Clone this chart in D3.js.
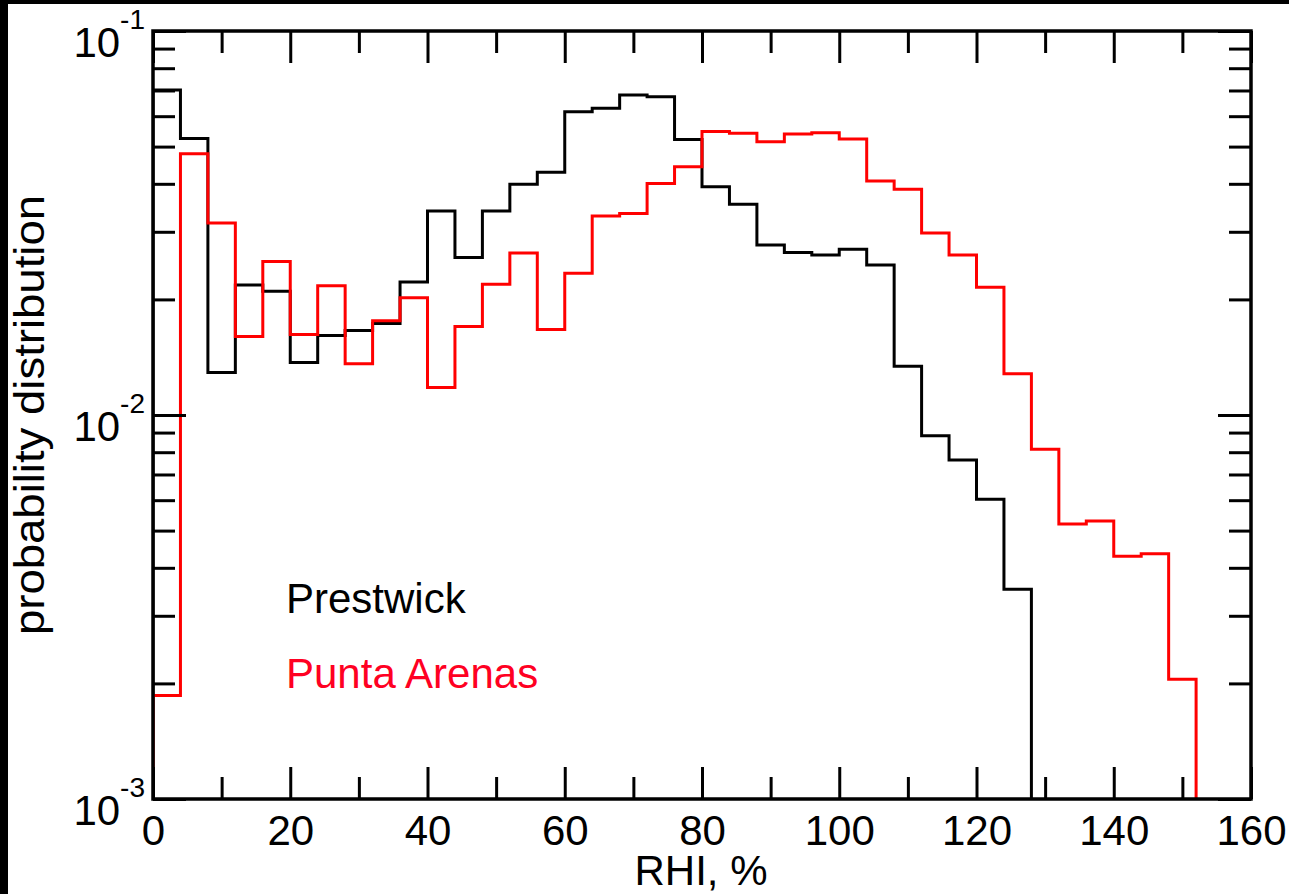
<!DOCTYPE html>
<html>
<head>
<meta charset="utf-8">
<script src="https://cdn.jsdelivr.net/npm/d3@7"></script>
<style>
  html, body { margin: 0; padding: 0; background: #fff; }
  svg { display: block; }
  text { font-family: "Liberation Sans", Arial, Helvetica, sans-serif; }
</style>
</head>
<body>
<svg id="chart" width="1289" height="894"></svg>
<script>
// ---- data ----
const xTicksMajor = [0, 20, 40, 60, 80, 100, 120, 140, 160];
const xTicksMinor = [10, 30, 50, 70, 90, 110, 130, 150];
const yTicksMajor = [1e-3, 1e-2, 1e-1];
const yTickExponents = ["-3", "-2", "-1"];
const yTicksMinor = [2e-3,3e-3,4e-3,5e-3,6e-3,7e-3,8e-3,9e-3,2e-2,3e-2,4e-2,5e-2,6e-2,7e-2,8e-2,9e-2];

// left edges of RHI bins (width 4 %)
const binEdges = [0,4,8,12,16,20,24,28,32,36,40,44,48,52,56,60,64,68,72,76,
                  80,84,88,92,96,100,104,108,112,116,120,124,128,132,136,140,144,148,152];

const prestwick = [0.0702, 0.0525, 0.0129, 0.0218, 0.0210, 0.0137, 0.0161, 0.0166, 0.0173, 0.0222,
                   0.0340, 0.0257, 0.0340, 0.0399, 0.0429, 0.0616, 0.0629, 0.0681, 0.0674, 0.0522,
                   0.0393, 0.0354, 0.0277, 0.0265, 0.0261, 0.0270, 0.0246, 0.0134, 0.00883, 0.00763,
                   0.00603, 0.00352];

const puntaArenas = [0.00186, 0.0479, 0.0316, 0.0160, 0.0251, 0.0162, 0.0217, 0.0136, 0.0176, 0.0202,
                     0.0118, 0.0170, 0.0219, 0.0264, 0.0167, 0.0234, 0.0330, 0.0335, 0.0401, 0.0443,
                     0.0547, 0.0542, 0.0515, 0.0539, 0.0543, 0.0523, 0.0407, 0.0387, 0.0298, 0.0261,
                     0.0215, 0.0128, 0.00814, 0.00520, 0.00530, 0.00429, 0.00435, 0.00205];

const seriesNames = ["Prestwick", "Punta Arenas"];
const seriesColors = ["#000000", "#ff0000"];
const labelColors = ["#000000", "#ff0022"];

// ---- layout ----
const W = 1289, H = 894;
const L = 153, T = 31, R = 1251, B = 799;
const FONT = 42;

const svg = d3.select("#chart");

// frame bands at top/left of picture
svg.append("rect").attr("x", 0).attr("y", 0).attr("width", W).attr("height", 4).attr("fill", "#000");
svg.append("rect").attr("x", 0).attr("y", 0).attr("width", 8).attr("height", H).attr("fill", "#000");

const x = d3.scaleLinear().domain([0, 160]).range([L, R]);
const y = d3.scaleLog().domain([1e-3, 1e-1]).range([B, T]);

svg.append("defs").append("clipPath").attr("id", "plotclip")
  .append("rect").attr("x", L).attr("y", T).attr("width", R - L).attr("height", B - T);

// ---- step lines ----
function stepPoints(vals) {
  const pts = [[binEdges[0], 1e-3]];
  vals.forEach((v, i) => {
    pts.push([binEdges[i], v]);
    pts.push([binEdges[i] + 4, v]);
  });
  pts.push([binEdges[vals.length - 1] + 4, 1e-3]);
  return pts;
}
const line = d3.line().x(d => x(d[0])).y(d => y(d[1]));

const gLines = svg.append("g").attr("clip-path", "url(#plotclip)");
[prestwick, puntaArenas].forEach((vals, i) => {
  gLines.append("path")
    .attr("d", line(stepPoints(vals)))
    .attr("fill", "none")
    .attr("stroke", seriesColors[i])
    .attr("stroke-width", 3)
    .attr("stroke-linejoin", "miter");
});

// ---- axes ----
function styleAxis(g) {
  g.select(".domain").remove();
  g.selectAll(".tick line").attr("stroke", "#000").attr("stroke-width", 3);
}
// bottom
svg.append("g").attr("transform", `translate(0,${B})`)
  .call(d3.axisBottom(x).tickValues(xTicksMajor).tickSize(-32).tickPadding(16).tickFormat(d3.format("d")))
  .call(styleAxis)
  .call(g => g.selectAll("text").attr("font-size", FONT).attr("fill", "#000")
    .attr("font-family", "Liberation Sans, Arial, sans-serif"));
svg.append("g").attr("transform", `translate(0,${B})`)
  .call(d3.axisBottom(x).tickValues(xTicksMinor).tickSize(-22).tickFormat(""))
  .call(styleAxis);
// top
svg.append("g").attr("transform", `translate(0,${T})`)
  .call(d3.axisTop(x).tickValues(xTicksMajor).tickSize(-32).tickFormat(""))
  .call(styleAxis);
svg.append("g").attr("transform", `translate(0,${T})`)
  .call(d3.axisTop(x).tickValues(xTicksMinor).tickSize(-22).tickFormat(""))
  .call(styleAxis);
// left
svg.append("g").attr("transform", `translate(${L},0)`)
  .call(d3.axisLeft(y).tickValues(yTicksMajor).tickSize(-33).tickFormat(""))
  .call(styleAxis);
svg.append("g").attr("transform", `translate(${L},0)`)
  .call(d3.axisLeft(y).tickValues(yTicksMinor).tickSize(-22).tickFormat(""))
  .call(styleAxis);
// right
svg.append("g").attr("transform", `translate(${R},0)`)
  .call(d3.axisRight(y).tickValues(yTicksMajor).tickSize(-33).tickFormat(""))
  .call(styleAxis);
svg.append("g").attr("transform", `translate(${R},0)`)
  .call(d3.axisRight(y).tickValues(yTicksMinor).tickSize(-22).tickFormat(""))
  .call(styleAxis);

// y tick labels 10^n
yTicksMajor.forEach((v, i) => {
  const t = svg.append("text")
    .attr("x", 145).attr("y", y(v) + 26)
    .attr("text-anchor", "end").attr("fill", "#000");
  t.append("tspan").attr("font-size", FONT).text("10");
  t.append("tspan").attr("font-size", 28).attr("dy", -28).text(yTickExponents[i]);
});

// frame
svg.append("rect").attr("x", L).attr("y", T).attr("width", R - L).attr("height", B - T)
  .attr("fill", "none").attr("stroke", "#000").attr("stroke-width", 3.5);

// axis titles
svg.append("text").attr("x", 701).attr("y", 885)
  .attr("text-anchor", "middle").attr("font-size", FONT).attr("fill", "#000")
  .text("RHI, %");
svg.append("text")
  .attr("transform", `translate(44,415) rotate(-90)`)
  .attr("text-anchor", "middle").attr("font-size", FONT).attr("fill", "#000")
  .attr("textLength", 440).attr("lengthAdjust", "spacingAndGlyphs")
  .text("probability distribution");

// legend labels
const legendY = [613, 688];
seriesNames.forEach((n, i) => {
  svg.append("text").attr("x", 286).attr("y", legendY[i])
    .attr("font-size", FONT).attr("fill", labelColors[i]).text(n);
});
</script>
</body>
</html>
